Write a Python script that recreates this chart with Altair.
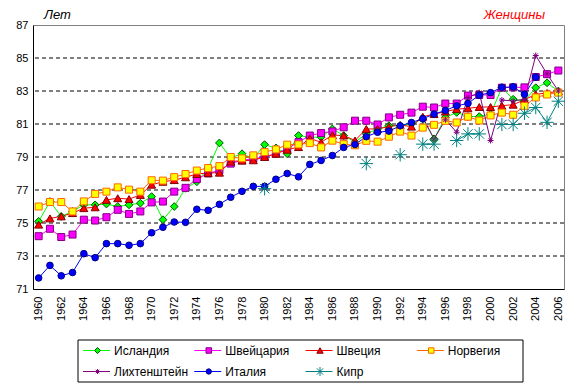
import altair as alt
import pandas as pd

years = list(range(1960, 2007))
names = ["Исландия", "Швейцария", "Швеция", "Норвегия", "Лихтенштейн", "Италия", "Кипр"]

iceland = [75.1, 76.3, 75.4, 75.7, 76.1, 76.1, 76.15, 76.0, 76.1, 76.2,
           76.6, 75.2, 76.0, 77.1, 77.5, 78.3, 79.85, 78.95, 79.2, 78.9,
           79.75, 79.55, 79.2, 80.3, 80.2, 80.2, 80.7, 80.3, 79.9, 80.4,
           80.7, 80.9, 80.9, 81.0, 81.3, 80.1, 81.4, 81.7, 81.45, 81.45,
           81.6, 83.2, 82.5, 82.4, 83.2, 83.5, 83.0]
switzerland = [74.2, 74.65, 74.15, 74.3, 75.2, 75.15, 75.35, 75.8, 75.55, 75.7,
               76.25, 76.3, 76.9, 77.13, 77.67, 78.0, 78.2, 78.6, 78.8, 78.9,
               79.0, 79.2, 79.5, 79.9, 80.3, 80.45, 80.55, 80.8, 81.2, 81.2,
               80.97, 81.4, 81.56, 81.69, 82.05, 82.0, 82.24, 82.24, 82.72, 82.76,
               82.76, 83.2, 83.22, 83.22, 83.85, 84.02, 84.24]
sweden = [74.9, 75.28, 75.4, 75.6, 75.9, 75.95, 76.4, 76.5, 76.45, 76.7,
          77.32, 77.5, 77.6, 77.77, 77.97, 78.03, 78.05, 78.72, 78.78, 78.8,
          79.0, 79.2, 79.44, 79.6, 80.13, 79.89, 80.33, 80.3, 80.0, 80.7,
          80.7, 80.84, 80.94, 80.84, 81.44, 81.6, 81.75, 81.9, 81.95, 82.03,
          82.03, 82.11, 82.17, 82.47, 82.8, 82.88, 82.98]
norway = [76.0, 76.27, 76.27, 75.7, 76.31, 76.76, 76.9, 77.16, 77.02, 76.9,
          77.59, 77.57, 77.78, 77.97, 78.18, 78.33, 78.45, 79.0, 78.92, 79.1,
          79.3, 79.46, 79.75, 79.76, 79.84, 79.58, 79.99, 79.78, 79.71, 79.98,
          79.93, 80.23, 80.54, 80.3, 80.78, 80.95, 81.19, 81.09, 81.44, 81.21,
          81.52, 81.69, 81.56, 82.1, 82.61, 82.79, 82.9]
liechtenstein = [None] * 34 + [81.4, 80.1, 81.25, 80.5, 82.6, 82.9, 80.0,
                               82.45, 82.4, 82.5, 85.15, 84.03, 83.0]
italy = [71.67, 72.43, 71.8, 72.0, 73.14, 72.9, 73.75, 73.75, 73.65, 73.75,
         74.41, 74.74, 75.06, 75.04, 75.83, 75.77, 76.13, 76.56, 76.92, 77.22,
         77.22, 77.65, 78.0, 77.8, 78.55, 78.79, 79.09, 79.58, 79.76, 80.23,
         80.5, 80.57, 80.89, 81.09, 81.32, 81.6, 81.82, 82.1, 82.25, 82.75,
         82.9, 83.22, 83.25, 82.8, 83.84, None, None]
cyprus = ([None] * 20 + [77.08] + [None] * 8 + [78.6, None, None, 79.14, None,
          79.78, 79.78, None, 80.0, 80.4, 80.4, None,
          80.97, 80.97, 81.65, 82.0, 81.1, 82.38])

y_ticks = [71, 73, 75, 77, 79, 81, 83, 85, 87]
grid_vals = [73, 75, 77, 79, 81, 83, 85]
x_ticks = years[::2]
unit_label = "Лет"
panel_label = "Женщины"

series_values = [iceland, switzerland, sweden, norway, liechtenstein, italy, cyprus]
rows = []
for nm, vals in zip(names, series_values):
    for yr, v in zip(years, vals):
        rows.append({"series": nm, "year": yr, "value": v})
df = pd.DataFrame(rows)

line_colors = ["#00FF00", "#FF00FF", "#FF0000", "#FF6600", "#800080", "#0000FF", "#008080"]
ASTER = "M-1,0L1,0M0,-1L0,1M-0.7,-0.7L0.7,0.7M-0.7,0.7L0.7,-0.7"
shapes = ["diamond", "square", "triangle-up", "square", ASTER, "circle", ASTER]
fills = ["#00FF00", "#FF00FF", "#FF0000", "#FFFF00", "transparent", "#0000FF", "transparent"]
strokes = ["#005000", "#800080", "#800000", "#FF6600", "#800080", "#000080", "#008080"]
sizes = [60, 49, 64, 49, 36, 44, 180]
legend_sizes = [36, 30, 40, 30, 25, 28, 81]

FONT = "Liberation Sans"

yscale = alt.Scale(domain=[71, 87], nice=False, zero=False)
xscale = alt.Scale(type="point", padding=0.5)

x_enc = alt.X("year:O", scale=xscale,
              axis=alt.Axis(values=x_ticks, labelAngle=-90, ticks=False, grid=False,
                            labelPadding=7, domainColor="black", title=None,
                            labelFontSize=11, minExtent=33, maxExtent=33))
y_axis = alt.Axis(values=y_ticks, ticks=False, grid=False, labelPadding=5,
                  domainColor="black", labelFontSize=11, title=None,
                  minExtent=24, maxExtent=24)
y_enc = alt.Y("value:Q", scale=yscale, axis=y_axis)

grid = alt.Chart(pd.DataFrame({"value": grid_vals})).mark_rule(
    color="black", strokeDash=[4, 3], strokeWidth=1
).encode(y=y_enc)

color_enc = alt.Color("series:N", scale=alt.Scale(domain=names, range=line_colors), legend=None)

lines = alt.Chart(df).mark_line(strokeWidth=1, invalid="break-paths-show-domains").encode(
    x=x_enc, y=y_enc, color=color_enc
)

points = alt.Chart(df).transform_filter("isValid(datum.value)").mark_point(
    opacity=1, strokeWidth=1
).encode(
    x=x_enc, y=y_enc,
    shape=alt.Shape("series:N", scale=alt.Scale(domain=names, range=shapes), legend=None),
    fill=alt.Fill("series:N", scale=alt.Scale(domain=names, range=fills), legend=None),
    stroke=alt.Stroke("series:N", scale=alt.Scale(domain=names, range=strokes), legend=None),
    size=alt.Size("series:N", scale=alt.Scale(type="ordinal", domain=names, range=sizes),
                  legend=None),
)

txt_unit = alt.Chart(pd.DataFrame({"t": [unit_label]})).mark_text(
    align="left", baseline="middle", fontSize=13, fontStyle="italic", font=FONT, color="black"
).encode(text="t:N", x=alt.value(11), y=alt.value(-10))
txt_panel = alt.Chart(pd.DataFrame({"t": [panel_label]})).mark_text(
    align="right", baseline="middle", fontSize=13, fontStyle="italic", font=FONT, color="red"
).encode(text="t:N", x=alt.value(512), y=alt.value(-10))

main = alt.layer(grid, lines, points, txt_unit, txt_panel).properties(
    width=531, height=264,
    view=alt.ViewBackground(stroke="#808080", strokeWidth=1),
)

# legend panel, aligned under the plot area
leg_df = pd.DataFrame({"series": names,
                       "col": [i % 4 for i in range(len(names))],
                       "row": [i // 4 for i in range(len(names))]})
lx = alt.X("col:Q", scale=alt.Scale(domain=[0, 4], range=[45, 490]), axis=None)
ly = alt.Y("row:Q", scale=alt.Scale(domain=[-0.5, 1.5], reverse=True), axis=None)
lbase = alt.Chart(leg_df)
leg_box = alt.Chart(pd.DataFrame({"b": [0]})).mark_rect(
    fill="transparent", stroke="black", strokeWidth=1
).encode(x=alt.value(45), x2=alt.value(490), y=alt.value(0), y2=alt.value(42))
leg_lines = lbase.mark_rule(strokeWidth=1, xOffset=5, x2Offset=32).encode(
    x=lx, x2="col:Q", y=ly,
    color=alt.Color("series:N", scale=alt.Scale(domain=names, range=line_colors), legend=None),
)
leg_pts = lbase.mark_point(opacity=1, strokeWidth=1, xOffset=19.5).encode(
    x=lx, y=ly,
    shape=alt.Shape("series:N", scale=alt.Scale(domain=names, range=shapes), legend=None),
    fill=alt.Fill("series:N", scale=alt.Scale(domain=names, range=fills), legend=None),
    stroke=alt.Stroke("series:N", scale=alt.Scale(domain=names, range=strokes), legend=None),
    size=alt.Size("series:N", scale=alt.Scale(type="ordinal", domain=names, range=legend_sizes),
                  legend=None),
)
leg_text = lbase.mark_text(align="left", baseline="middle", dx=36, fontSize=12,
                           font=FONT, color="black").encode(x=lx, y=ly, text="series:N")
legend = alt.layer(leg_box, leg_lines, leg_pts, leg_text).properties(
    width=531, height=42, view=alt.ViewBackground(strokeOpacity=0)
)

chart = alt.vconcat(main, legend, spacing=16).resolve_scale(
    x="independent", y="independent", color="independent", shape="independent",
    fill="independent", stroke="independent", size="independent"
).properties(padding=0, background="white").configure(font=FONT).configure_axis(
    labelFont=FONT, titleFont=FONT, labelColor="black", titleColor="black", domainWidth=1
)

chart.save("out.html", embed_options={"renderer": "svg", "actions": False})
